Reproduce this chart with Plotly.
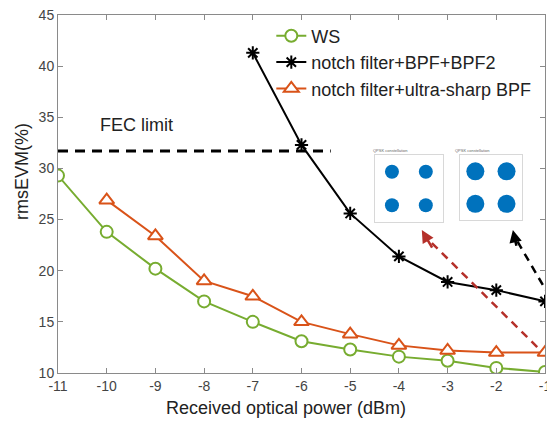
import plotly.graph_objects as go

# ---- data ----
power = [-11, -10, -9, -8, -7, -6, -5, -4, -3, -2, -1]
ws_x = power
ws_y = [29.3, 23.8, 20.2, 17.0, 15.0, 13.1, 12.3, 11.6, 11.2, 10.5, 10.1]
bpf2_x = [-7, -6, -5, -4, -3, -2, -1]
bpf2_y = [41.3, 32.3, 25.6, 21.4, 18.9, 18.1, 17.0]
sharp_x = [-10, -9, -8, -7, -6, -5, -4, -3, -2, -1]
sharp_y = [26.9, 23.4, 19.0, 17.5, 15.0, 13.8, 12.7, 12.2, 12.0, 12.0]
fec_limit = 31.7
fec_x = [-11, -5.4]
x_ticks = [-11, -10, -9, -8, -7, -6, -5, -4, -3, -2, -1]
x_tick_text = ["-11", "-10", "-9", "-8", "-7", "-6", "-5", "-4", "-3", "-2", "-1"]
y_ticks = [10, 15, 20, 25, 30, 35, 40, 45]
const_i = [-1, 1, -1, 1]
const_q = [1, 1, -1, -1]

GREEN = "#77AC30"
ORANGE = "#D95319"
RED = "#B5302A"
FONT = "Liberation Sans, Arial, sans-serif"

fig = go.Figure()

fig.add_trace(go.Scatter(
    x=fec_x, y=[fec_limit, fec_limit], mode="lines",
    line=dict(color="black", width=3, dash="10px,7px"), showlegend=False, hoverinfo="skip"))

fig.add_trace(go.Scatter(
    x=ws_x, y=ws_y, mode="lines+markers", name="WS",
    line=dict(color=GREEN, width=2),
    marker=dict(symbol="circle", size=12, color="white", line=dict(color=GREEN, width=2))))
fig.add_trace(go.Scatter(
    x=bpf2_x, y=bpf2_y, mode="lines+markers", name="notch filter+BPF+BPF2",
    line=dict(color="black", width=2),
    marker=dict(symbol="asterisk-open", size=11, color="black", line=dict(color="black", width=2))))
fig.add_trace(go.Scatter(
    x=sharp_x, y=sharp_y, mode="lines+markers", name="notch filter+ultra-sharp BPF",
    line=dict(color=ORANGE, width=2),
    marker=dict(symbol="triangle-up", size=13, color="white", line=dict(color=ORANGE, width=2))))

# insets (constellations)
fig.add_trace(go.Scatter(
    x=const_i, y=const_q, mode="markers", xaxis="x2", yaxis="y2", showlegend=False,
    marker=dict(size=14, color="#0072BD"), hoverinfo="skip"))
fig.add_trace(go.Scatter(
    x=const_i, y=const_q, mode="markers", xaxis="x3", yaxis="y3", showlegend=False,
    marker=dict(size=18, color="#0072BD"), hoverinfo="skip"))

axis_common = dict(showgrid=False, zeroline=False, showline=True, linecolor="#8a8a8a",
                   linewidth=1, mirror="ticks", ticks="inside", ticklen=5,
                   tickcolor="#8a8a8a", ticklabeloverflow="allow", automargin=False,
                   tickfont=dict(family=FONT, size=14, color="#444"))
inset_axis = dict(showgrid=False, zeroline=False, showline=True, linecolor="#d8d8d8",
                  linewidth=1, mirror=True, ticks="", showticklabels=False,
                  range=[-2, 2], fixedrange=True)

fig.update_layout(
    width=547, height=423,
    margin=dict(l=58, r=2, t=15, b=50),
    paper_bgcolor="white", plot_bgcolor="white",
    font=dict(family=FONT, color="#222"),
    xaxis=dict(range=[-11, -1], tickvals=x_ticks, ticktext=x_tick_text, **axis_common),
    yaxis=dict(range=[10, 45], tickvals=y_ticks, **axis_common),
    xaxis2=dict(domain=[0.651, 0.79], anchor="y2", **inset_axis),
    yaxis2=dict(domain=[0.422, 0.609], anchor="x2", **inset_axis),
    xaxis3=dict(domain=[0.825, 0.953], anchor="y3", **inset_axis),
    yaxis3=dict(domain=[0.427, 0.609], anchor="x3", **inset_axis),
    legend=dict(x=0.438, y=0.993, xanchor="left", yanchor="top",
                bgcolor="rgba(0,0,0,0)", borderwidth=0, tracegroupgap=0,
                font=dict(family=FONT, size=18, color="#222")),
    showlegend=True,
)


def px2paper(px, py):
    return (px - 58) / 487.0, (373 - py) / 358.0


xt = px2paper(286, 408)
yt = px2paper(22, 172)
fig.add_annotation(text="Received optical power (dBm)", x=xt[0], y=xt[1], xref="paper", yref="paper",
                   xanchor="center", yanchor="middle",
                   showarrow=False, font=dict(size=18, family=FONT, color="#222"))
fig.add_annotation(text="rmsEVM(%)", x=yt[0], y=yt[1], xref="paper", yref="paper", textangle=-90,
                   xanchor="center", yanchor="middle",
                   showarrow=False, font=dict(size=18, family=FONT, color="#222"))
fig.add_annotation(text="FEC limit", x=-9.39, y=34.24, xref="x", yref="y", showarrow=False,
                   font=dict(size=18, family=FONT, color="#222"))
# inset titles (tiny)
fig.add_annotation(text="QPSK constellation", x=0.72, y=0.609, xref="paper", yref="paper",
                   yanchor="bottom", showarrow=False, font=dict(size=4, color="#666"))
fig.add_annotation(text="QPSK constellation", x=0.889, y=0.609, xref="paper", yref="paper",
                   yanchor="bottom", showarrow=False, font=dict(size=4, color="#666"))

# dashed arrows
fig.add_shape(type="line", x0=-1.16, y0=12.54, x1=-3.45, y1=23.3, xref="x", yref="y",
              line=dict(color=RED, width=2.5, dash="8px,6px"))
fig.add_annotation(x=-3.53, y=23.98, ax=-3.3, ay=22.1, xref="x", yref="y", axref="x", ayref="y",
                   text="", showarrow=True, arrowhead=2, arrowsize=1, arrowwidth=2.5, arrowcolor=RED)
fig.add_shape(type="line", x0=-0.9, y0=17.43, x1=-1.62, y1=23.3, xref="x", yref="y",
              line=dict(color="black", width=2.5, dash="8px,6px"))
fig.add_annotation(x=-1.66, y=23.98, ax=-1.58, ay=22.3, xref="x", yref="y", axref="x", ayref="y",
                   text="", showarrow=True, arrowhead=2, arrowsize=1, arrowwidth=2.5, arrowcolor="black")

fig.write_html("out.html")
